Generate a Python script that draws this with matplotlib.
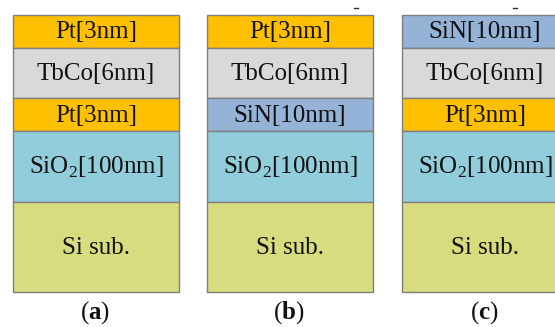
import matplotlib
matplotlib.use("Agg")
import matplotlib.pyplot as plt

plt.rcParams['font.family'] = ['Liberation Serif', 'DejaVu Serif']
plt.rcParams['mathtext.fontset'] = 'custom'
plt.rcParams['mathtext.rm'] = 'Liberation Serif'
plt.rcParams['mathtext.bf'] = 'Liberation Serif:bold'

# Layer stacks, listed top to bottom
panel_labels = ['a', 'b', 'c']
stacks = [
    ['Pt[3nm]', 'TbCo[6nm]', 'Pt[3nm]', 'SiO$_2$[100nm]', 'Si sub.'],
    ['Pt[3nm]', 'TbCo[6nm]', 'SiN[10nm]', 'SiO$_2$[100nm]', 'Si sub.'],
    ['SiN[10nm]', 'TbCo[6nm]', 'Pt[3nm]', 'SiO$_2$[100nm]', 'Si sub.'],
]
material_colors = {'Pt': '#FFC000', 'TbCo': '#D9D9D9', 'SiN': '#95B3D7',
                   'SiO2': '#92CDDC', 'Si': '#D7DC7E'}
# drawn thickness of each layer type (schematic, not to scale)
drawn_height = {'Pt': 33, 'TbCo': 50, 'SiN': 33, 'SiO2': 71, 'Si': 90}


def material_of(label):
    for m in ['TbCo', 'SiN', 'SiO', 'Pt', 'Si']:
        if label.startswith(m):
            return 'SiO2' if m == 'SiO' else m
    return 'Si'


W, H = 555, 327
fig = plt.figure(figsize=(W / 100, H / 100), dpi=100)
ax = fig.add_axes([0, 0, 1, 1])
ax.set_xlim(0, W)
ax.set_ylim(H, 0)
ax.axis('off')

lefts = [13, 207, 402]
width = 166
top = 15

for left, stack, plab in zip(lefts, stacks, panel_labels):
    y = top
    cx = left + width / 2
    for lab in stack:
        m = material_of(lab)
        h = drawn_height[m]
        ax.bar(cx, h, bottom=y, width=width, color=material_colors[m],
               edgecolor='#7F7F7F', linewidth=1.0, align='center')
        ax.text(cx, y + h / 2 + 1, lab, ha='center', va='center',
                fontsize=18, color='#111111')
        y += h
    ax.text(cx - 1, 313, r'($\mathbf{%s}$)' % plab, ha='center', va='center',
            fontsize=18, color='#111111')

# small stray marks above panels (b) and (c)
ax.plot([354, 358], [7.5, 7.5], color='#333333', lw=1)
ax.plot([513, 517], [7.5, 7.5], color='#333333', lw=1)

fig.savefig('out.png', dpi=100)
